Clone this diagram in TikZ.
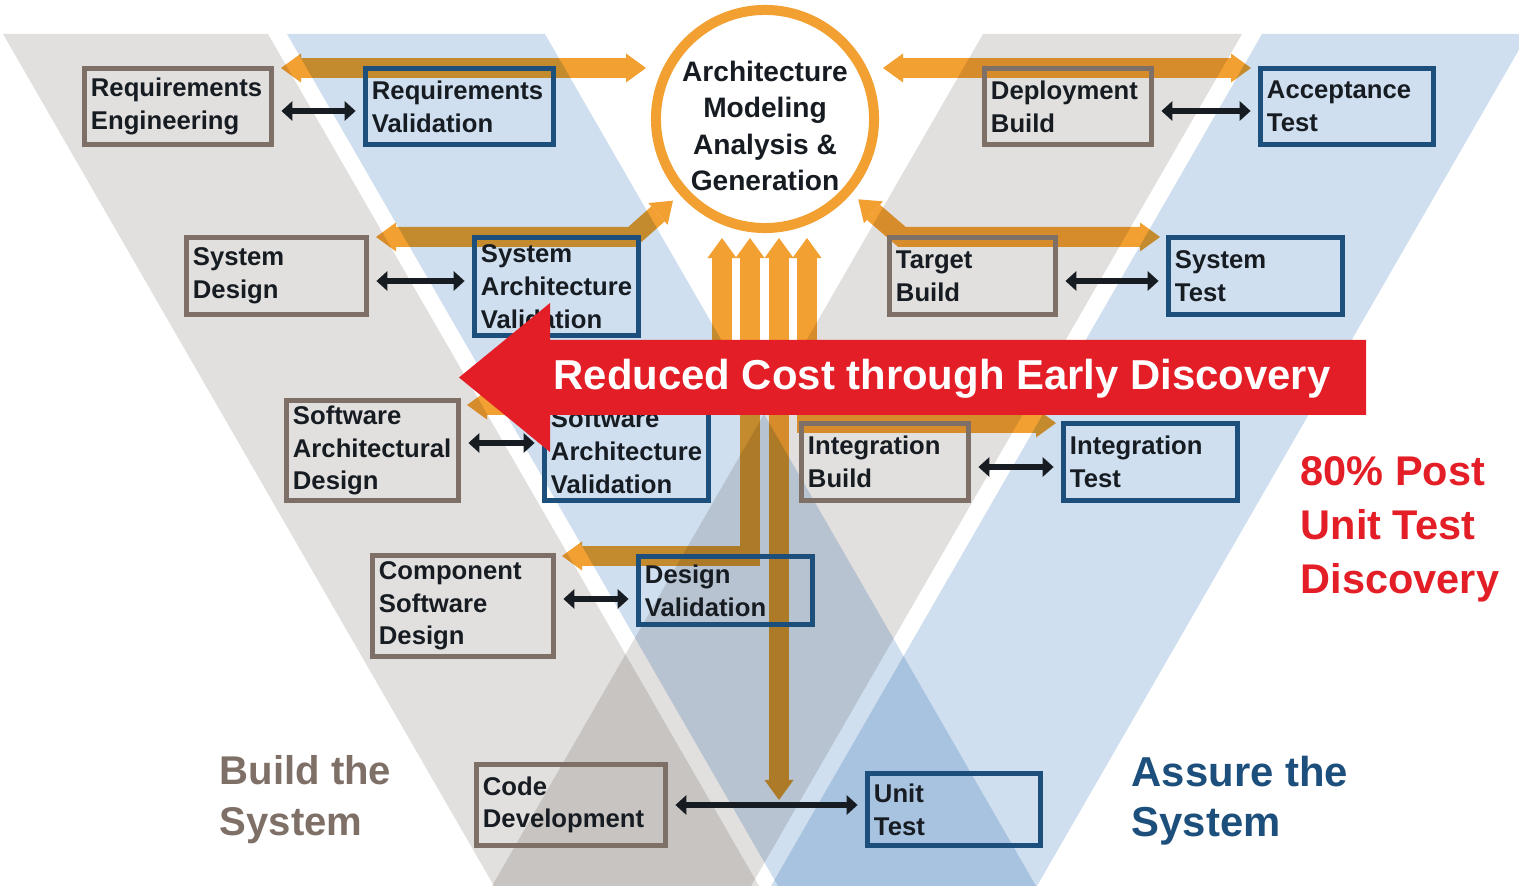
\documentclass[tikz,border=0pt]{standalone}
\usepackage{fontspec}
\setmainfont{Liberation Sans}
\usetikzlibrary{arrows.meta}

\definecolor{bandgrey}{RGB}{226,224,222}
\definecolor{bandblue}{RGB}{207,223,239}
\definecolor{framegrey}{RGB}{126,111,103}
\definecolor{frameblue}{RGB}{29,79,124}
\definecolor{amber}{RGB}{242,160,50}
\definecolor{alarm}{RGB}{228,30,38}
\definecolor{ink}{RGB}{22,28,34}
\hyphenpenalty=10000

\begin{document}
\begin{tikzpicture}[x=0.01cm,y=-0.01cm,
  box/.style={draw,line width=1.65pt,inner xsep=.065cm,inner ysep=0pt,align=left,text=ink,
    font=\bfseries\fontsize{7.3}{9.3}\selectfont},
  dims/.style 2 args={text width=#1cm,minimum height=#2cm},
  build/.style={box,draw=framegrey},
  check/.style={box,draw=frameblue},
  link/.style={ink,line width=1.7pt,shorten <=.07cm,shorten >=.07cm,
    {Triangle[length=.11cm,width=.2cm,line width=0pt]}-{Triangle[length=.11cm,width=.2cm,line width=0pt]}},
  feed/.style={amber,line width=.2cm,line join=miter,
    {Triangle[length=.2cm,width=.29cm,line width=0pt]}-{Triangle[length=.2cm,width=.29cm,line width=0pt]}},
  heading/.style={anchor=north west,inner sep=0pt,align=left,
    font=\bfseries\fontsize{11.4}{14.4}\selectfont}]
  \useasboundingbox (0,0) rectangle (1519,886);

  \node[circle,draw=amber,line width=.1cm,fill=white,minimum size=2.18cm,inner sep=0pt]
    (core) at (765,119) {};
  \node[align=center,inner sep=0pt,text=ink,font=\bfseries\fontsize{8}{10.3}\selectfont]
    (corelabel) at (765,126) {Architecture\\Modeling\\Analysis \&\\Generation};

  \coordinate (tl0) at (281,68);   \coordinate (tl1) at (646,68);
  \coordinate (tr0) at (883,68);   \coordinate (tr1) at (1251,68);
  \coordinate (ml0) at (376,237);  \coordinate (ml1) at (632,237);
  \coordinate (mr1) at (902,237);  \coordinate (mr2) at (1160,237);
  \coordinate (u1) at (722,238);   \coordinate (d1) at (467,405);
  \coordinate (u2) at (750,238);   \coordinate (d2) at (562,556);
  \coordinate (u3) at (779,238);   \coordinate (d3) at (779,800);
  \coordinate (u4) at (807,238);   \coordinate (d4) at (1056,423);

  % feeds to and from the model, shaded by the bands laid over them
  \draw[feed] (tl0) -- (tl1);
  \draw[feed] (tr0) -- (tr1);
  \draw[feed,shorten >=.09cm] (ml0) -- (ml1) -- (core);
  \draw[feed,shorten <=.09cm] (core) -- (mr1) -- (mr2);
  \draw[feed] (u1) |- (d1);
  \draw[feed] (u2) |- (d2);
  \draw[feed] (u3) -- (d3);
  \draw[feed] (u4) |- (d4);

  % the two overlapping Vs
  \begin{scope}[blend mode=multiply]
    \fill[bandgrey] (3,34) -- (268,34) -- (759,886) -- (494,886) -- cycle;
    \fill[bandblue] (287,34) -- (545,34) -- (1036,886) -- (778,886) -- cycle;
    \fill[bandgrey] (983,34) -- (1242,34) -- (751,886) -- (492,886) -- cycle;
    \fill[bandblue] (1262,34) -- (1528,34) -- (1037,886) -- (771,886) -- cycle;
  \end{scope}

  \node[build,dims={1.74}{.76}] (reqeng) at (178,106.5) {Requirements\\Engineering};
  \node[build,dims={1.67}{.77}] (sysdes) at (276.5,276) {System\\Design};
  \node[build,dims={1.59}{1.00}] (swdes) at (372.5,450.5) {Software\\Architectural\\Design};
  \node[build,dims={1.68}{1.01}] (compdes) at (463,606) {Component\\Software\\Design};
  \node[build,dims={1.76}{.81}] (codedev) at (571,805) {Code\\Development};
  \node[build,dims={1.54}{.76}] (deploy) at (1068,106.5) {Deployment\\Build};
  \node[build,dims={1.53}{.77}] (target) at (972.5,276) {Target\\Build};
  \node[build,dims={1.54}{.77}] (intbuild) at (885,462) {Integration\\Build};

  \node[check,dims={1.75}{.76}] (reqval) at (459.5,106.5) {Requirements\\Validation};
  \node[check,dims={1.51}{.98}] (sysval) at (556.5,286.5) {System\\Architecture\\Validation};
  \node[check,dims={1.51}{.98}] (swval) at (626.5,451.5) {Software\\Architecture\\Validation};
  \node[check,dims={1.61}{.68}] (desval) at (725.5,590.5) {Design\\Validation};
  \node[check,dims={1.60}{.72}] (unittest) at (954,809.5) {Unit\\Test};
  \node[check,dims={1.60}{.76}] (acctest) at (1347,106.5) {Acceptance\\Test};
  \node[check,dims={1.61}{.77}] (systest) at (1255.5,276) {System\\Test};
  \node[check,dims={1.61}{.77}] (inttest) at (1150.5,462) {Integration\\Test};

  \draw[link] ([yshift=-.045cm]reqeng.east) -- ([yshift=-.045cm]reqval.west);
  \draw[link] ([yshift=-.05cm]sysdes.east) -- ([yshift=-.05cm]sysdes.east -| sysval.west);
  \draw[link] ([yshift=.075cm]swdes.east) -- ([yshift=.075cm]swdes.east -| swval.west);
  \draw[link] ([yshift=.07cm]compdes.east) -- ([yshift=.07cm]compdes.east -| desval.west);
  \draw[link] (codedev.east) -- (codedev.east -| unittest.west);
  \draw[link] ([yshift=-.045cm]deploy.east) -- ([yshift=-.045cm]acctest.west);
  \draw[link] ([yshift=-.05cm]target.east) -- ([yshift=-.05cm]systest.west);
  \draw[link] ([yshift=-.05cm]intbuild.east) -- ([yshift=-.05cm]inttest.west);

  % early discovery banner
  \fill[alarm] (1366,340) -- (550,340) -- (550,303) -- (459,377.5) -- (550,452)
    -- (550,415) -- (1366,415) -- cycle;
  \node[anchor=base,inner sep=0pt,text=white,font=\bfseries\fontsize{11.9}{14}\selectfont]
    (cost) at (942,390) {Reduced Cost through Early Discovery};

  \node[heading,text=framegrey] (build) at (219,755) {Build the\\System};
  \node[heading,text=frameblue,font=\bfseries\fontsize{11.9}{14.4}\selectfont]
    (assure) at (1131,755) {Assure the\\System};
  \node[heading,text=alarm,font=\bfseries\fontsize{11.8}{15.4}\selectfont]
    (share) at (1300,456) {80\% Post\\Unit Test\\Discovery};
\end{tikzpicture}
\end{document}
